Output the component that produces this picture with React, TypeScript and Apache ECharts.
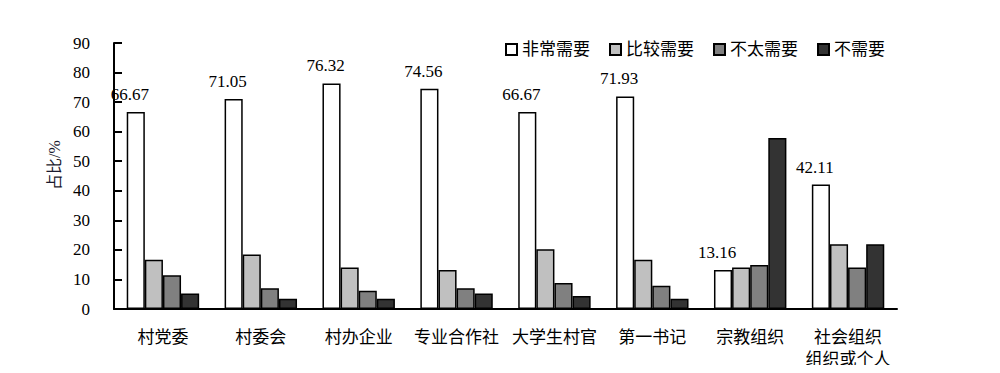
import React, { useEffect, useRef } from "react";
import * as echarts from "echarts";

const categories = ["村党委", "村委会", "村办企业", "专业合作社", "大学生村官", "第一书记", "宗教组织", "社会组织\n组织或个人"];
const seriesNames = ["非常需要", "比较需要", "不太需要", "不需要"];
const veryNeeded = [66.67, 71.05, 76.32, 74.56, 66.67, 71.93, 13.16, 42.11];
const ratherNeeded = [16.67, 18.42, 14.04, 13.16, 20.18, 16.67, 14.04, 21.93];
const notVeryNeeded = [11.4, 7.02, 6.14, 7.02, 8.77, 7.89, 14.91, 14.04];
const notNeeded = [5.26, 3.51, 3.51, 5.26, 4.39, 3.51, 57.89, 21.93];
const yTicks = [0, 10, 20, 30, 40, 50, 60, 70, 80, 90];
const colors = ["#ffffff", "#c0c0c0", "#808080", "#333333"];

const FONT = "Liberation Serif, Times New Roman, Noto Sans CJK SC, serif";

export default function App() {
  const ref = useRef<HTMLDivElement>(null);
  useEffect(() => {
    if (!ref.current) return;
    const chart = echarts.init(ref.current, null, { renderer: "svg" });
    const data = [veryNeeded, ratherNeeded, notVeryNeeded, notNeeded];
    chart.setOption({
      animation: false,
      textStyle: { fontFamily: FONT, color: "#000" },
      legend: {
        right: 110,
        top: 36,
        itemWidth: 11,
        itemHeight: 11,
        itemGap: 19,
        icon: "rect",
        textStyle: { fontFamily: FONT, fontSize: 17, color: "#000" },
        data: seriesNames,
      },
      grid: { left: 114, right: 103, top: 43, bottom: 64, containLabel: false },
      xAxis: {
        type: "category",
        data: categories,
        axisLine: { lineStyle: { color: "#000", width: 2 } },
        axisTick: { inside: true, length: 6, lineStyle: { color: "#000", width: 2 } },
        axisLabel: { fontFamily: FONT, fontSize: 17, color: "#000", margin: 17, lineHeight: 22, interval: 0 },
      },
      yAxis: {
        type: "value",
        min: 0,
        max: yTicks[yTicks.length - 1],
        interval: 10,
        name: "占比/%",
        nameLocation: "middle",
        nameGap: 50,
        nameTextStyle: { fontFamily: FONT, fontSize: 16, color: "#1a1a2e", padding: [0, 0, 0, 22] },
        axisLine: { show: true, lineStyle: { color: "#000", width: 2 } },
        axisTick: { show: true, inside: true, length: 8, lineStyle: { color: "#000", width: 2 } },
        axisLabel: { fontFamily: FONT, fontSize: 17, color: "#000", margin: 24 },
        splitLine: { show: false },
      },
      series: seriesNames.map((name, i) => ({
        name,
        type: "bar",
        data: data[i],
        barGap: "0%",
        barCategoryGap: "26%",
        itemStyle: { color: colors[i], borderColor: "#000", borderWidth: 1.5 },
        label:
          i === 0
            ? {
                show: true,
                position: "top",
                distance: 9,
                offset: [-6, 0],
                fontFamily: FONT,
                fontSize: 17,
                color: "#000",
                formatter: (p: any) => p.value.toFixed(2),
              }
            : { show: false },
      })),
    });
    return () => chart.dispose();
  }, []);
  return <div ref={ref} style={{ width: 1000, height: 373, margin: -8 }} />;
}
